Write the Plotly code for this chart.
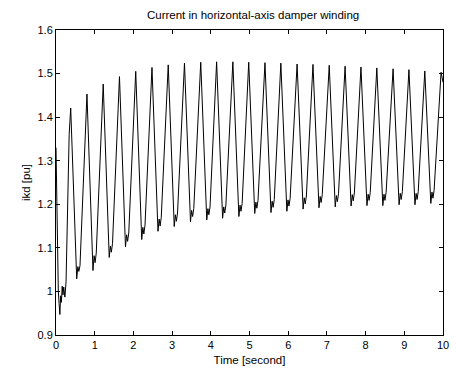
import plotly.graph_objects as go

# ---- data ----
start_t = [0.00, 0.02, 0.04, 0.06, 0.08, 0.10, 0.12, 0.14, 0.16, 0.18, 0.20, 0.23, 0.26, 0.30, 0.34]
start_v = [1.330, 1.200, 1.030, 1.000, 0.972, 0.947, 0.990, 0.975, 1.012, 0.992, 1.010, 0.987, 1.022, 1.170, 1.360]

peak_t = [0.38, 0.80, 1.22, 1.64, 2.06, 2.48, 2.90, 3.32, 3.74, 4.15, 4.57, 4.98,
          5.40, 5.81, 6.23, 6.64, 7.06, 7.47, 7.88, 8.29, 8.71, 9.12, 9.53, 9.95]
peak_v = [1.421, 1.453, 1.476, 1.493, 1.505, 1.514, 1.520, 1.524, 1.526, 1.527, 1.527, 1.526,
          1.525, 1.524, 1.522, 1.521, 1.519, 1.517, 1.515, 1.513, 1.511, 1.509, 1.506, 1.503]

trough_t = [0.535, 0.955, 1.375, 1.795, 2.215, 2.635, 3.055, 3.475, 3.895, 4.305, 4.725, 5.135,
            5.555, 5.965, 6.385, 6.795, 7.215, 7.625, 8.035, 8.445, 8.865, 9.275, 9.685]
trough_v = [1.029, 1.048, 1.078, 1.102, 1.119, 1.138, 1.149, 1.160, 1.164, 1.168, 1.172, 1.179,
            1.181, 1.184, 1.189, 1.192, 1.194, 1.196, 1.197, 1.197, 1.199, 1.199, 1.202]

bump1_t = [0.565, 0.985, 1.405, 1.825, 2.245, 2.665, 3.085, 3.505, 3.925, 4.335, 4.755, 5.165,
           5.585, 5.995, 6.415, 6.825, 7.245, 7.655, 8.065, 8.475, 8.895, 9.305, 9.715]
bump1_v = [1.057, 1.082, 1.104, 1.130, 1.147, 1.166, 1.176, 1.186, 1.190, 1.194, 1.198, 1.205,
           1.207, 1.210, 1.215, 1.218, 1.220, 1.222, 1.223, 1.223, 1.225, 1.225, 1.228]

dip_t = [0.59, 1.01, 1.43, 1.85, 2.27, 2.69, 3.11, 3.53, 3.95, 4.36, 4.78, 5.19,
         5.61, 6.02, 6.44, 6.85, 7.27, 7.68, 8.09, 8.50, 8.92, 9.33, 9.74]
dip_v = [1.046, 1.066, 1.090, 1.115, 1.132, 1.150, 1.161, 1.172, 1.176, 1.180, 1.184, 1.191,
         1.193, 1.196, 1.201, 1.204, 1.206, 1.208, 1.209, 1.209, 1.211, 1.211, 1.214]

bump2_t = [0.62, 1.04, 1.46, 1.88, 2.30, 2.72, 3.14, 3.56, 3.98, 4.39, 4.81, 5.22,
           5.64, 6.05, 6.47, 6.88, 7.30, 7.71, 8.12, 8.53, 8.95, 9.36, 9.77]
bump2_v = [1.059, 1.088, 1.110, 1.134, 1.152, 1.170, 1.180, 1.190, 1.194, 1.198, 1.202, 1.209,
           1.211, 1.214, 1.219, 1.222, 1.224, 1.226, 1.227, 1.227, 1.229, 1.229, 1.232]

end_t = [10.0]
end_v = [1.480]

x_ticks = [0, 1, 2, 3, 4, 5, 6, 7, 8, 9, 10]
x_labels = ["0", "1", "2", "3", "4", "5", "6", "7", "8", "9", "10"]
y_ticks = [0.9, 1.0, 1.1, 1.2, 1.3, 1.4, 1.5, 1.6]
y_labels = ["0.9", "1", "1.1", "1.2", "1.3", "1.4", "1.5", "1.6"]

# ---- assemble the polyline in time order ----
t = list(start_t)
v = list(start_v)
for i in range(len(peak_t)):
    t.append(peak_t[i]); v.append(peak_v[i])
    if i < len(trough_t):
        t += [trough_t[i], bump1_t[i], dip_t[i], bump2_t[i]]
        v += [trough_v[i], bump1_v[i], dip_v[i], bump2_v[i]]
t += end_t
v += end_v

font = "Liberation Sans, Arial, sans-serif"

fig = go.Figure()
fig.add_trace(go.Scatter(x=t, y=v, mode="lines",
                         line=dict(color="black", width=1), showlegend=False))

axis_common = dict(showgrid=False, zeroline=False, showline=True, linecolor="black",
                   linewidth=1, mirror="allticks", ticks="inside", ticklen=4,
                   tickcolor="black", tickfont=dict(family=font, size=11, color="black"))

fig.update_layout(
    width=456, height=371,
    margin=dict(l=56, r=7, t=30, b=32),
    paper_bgcolor="white", plot_bgcolor="white",
    title=dict(text="Current in horizontal-axis damper winding", x=0.555, xanchor="center",
               y=1 - 15 / 371, yanchor="middle",
               font=dict(family=font, size=11.5, color="black")),
    xaxis=dict(range=[0, 10], tickvals=x_ticks, ticktext=x_labels,
               title=dict(text="Time [second]", standoff=5,
                          font=dict(family=font, size=11.5, color="black")),
               **axis_common),
    yaxis=dict(range=[0.9, 1.6], tickvals=y_ticks, ticktext=y_labels,
               title=dict(text="ikd [pu]", standoff=4,
                          font=dict(family=font, size=11.5, color="black")),
               **axis_common),
)

fig.write_html("out.html")
